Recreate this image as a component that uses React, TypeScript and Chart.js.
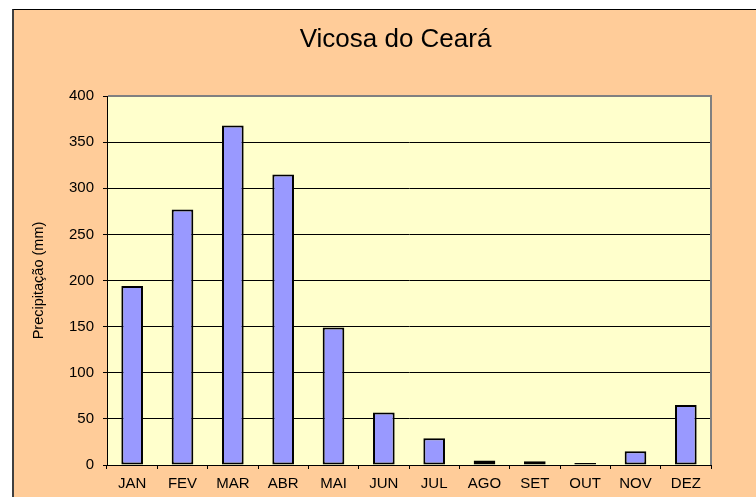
import React, { useEffect, useRef } from "react";
import { Chart, registerables } from "chart.js";

Chart.register(...registerables);

const months = ["JAN", "FEV", "MAR", "ABR", "MAI", "JUN", "JUL", "AGO", "SET", "OUT", "NOV", "DEZ"];
const precipitation = [194, 277, 368, 315, 149, 57, 29, 5, 4, 2, 15, 65];
const chartTitle = "Vicosa do Ceará";
const yAxisTitle = "Precipitação (mm)";
const yMin = 0;
const yMax = 400;
const yStep = 50;

const FONT = "'Liberation Sans', Arial, sans-serif";

const bgPlugin = {
  id: "bgPlugin",
  beforeDraw(chart: any) {
    const { ctx, chartArea: a, width, height } = chart;
    ctx.save();
    ctx.fillStyle = "#FFCC99";
    ctx.fillRect(0, 0, width, height);
    ctx.fillStyle = "#FFFFCC";
    ctx.fillRect(a.left, a.top, a.right - a.left, a.bottom - a.top);
    ctx.restore();
  },
  beforeDatasetsDraw(chart: any) {
    const { ctx, chartArea: a } = chart;
    ctx.save();
    ctx.fillStyle = "#808080";
    ctx.fillRect(a.left + 1, a.top - 1, a.right - a.left, 2);
    ctx.fillRect(a.right - 1, a.top - 1, 2, a.bottom - a.top + 1);
    ctx.restore();
  },
};

export default function App() {
  const ref = useRef<HTMLCanvasElement | null>(null);

  useEffect(() => {
    if (!ref.current) return;
    const chart = new Chart(ref.current, {
      type: "bar",
      data: {
        labels: months,
        datasets: [
          {
            label: "Precipitação",
            data: precipitation,
            backgroundColor: "#9999FF",
            borderColor: "#000000",
            borderWidth: 2,
            borderSkipped: false,
            barPercentage: 0.43,
            categoryPercentage: 1,
            minBarLength: 2,
          },
        ],
      },
      options: {
        animation: false,
        responsive: false,
        devicePixelRatio: 1,
        layout: { padding: 0 },
        plugins: {
          legend: { display: false },
          tooltip: { enabled: false },
          title: {
            display: true,
            text: chartTitle,
            color: "#000000",
            font: { family: FONT, size: 26, weight: "normal", lineHeight: 1.2 },
            padding: { top: 13.9, bottom: 40.9 },
          },
        },
        scales: {
          x: {
            grid: {
              display: true,
              offset: true,
              drawOnChartArea: false,
              drawTicks: true,
              tickLength: 4,
              color: "#000000",
            },
            border: { display: true, color: "#000000", width: 1 },
            ticks: {
              color: "#000000",
              font: { family: FONT, size: 15 },
              padding: 6,
              maxRotation: 0,
              autoSkip: false,
            },
            afterFit(scale: any) {
              scale.height = 32;
            },
          },
          y: {
            min: yMin,
            max: yMax,
            grid: {
              color: "#000000",
              lineWidth: 1,
              drawTicks: true,
              tickLength: 4,
            },
            border: { display: true, color: "#000000", width: 1 },
            ticks: {
              stepSize: yStep,
              color: "#000000",
              font: { family: FONT, size: 15 },
              padding: 9,
            },
            title: {
              display: true,
              text: yAxisTitle,
              color: "#000000",
              font: { family: FONT, size: 14.5, weight: "normal" },
              padding: { top: 16, bottom: 0 },
            },
            afterFit(scale: any) {
              scale.width = 93;
            },
          },
          yRightSpace: {
            position: "right",
            display: true,
            min: yMin,
            max: yMax,
            grid: { display: false, drawTicks: false },
            border: { display: false },
            ticks: { display: false },
            afterFit(scale: any) {
              scale.width = 66;
            },
          },
        },
      },
      plugins: [bgPlugin],
    } as any);
    return () => chart.destroy();
  }, []);

  return (
    <div
      style={{
        position: "fixed",
        left: 0,
        top: 0,
        width: 756,
        height: 497,
        overflow: "hidden",
        background: "#FFFFFF",
      }}
    >
      <div
        style={{
          position: "absolute",
          left: 12,
          top: 9,
          width: 800,
          height: 520,
          background: "#FFCC99",
          borderLeft: "2px solid #404040",
          borderTop: "1px solid #000000",
          boxSizing: "content-box",
        }}
      >
        <canvas
          ref={ref}
          width={763}
          height={487}
          style={{ display: "block", width: 763, height: 487 }}
        />
      </div>
    </div>
  );
}
